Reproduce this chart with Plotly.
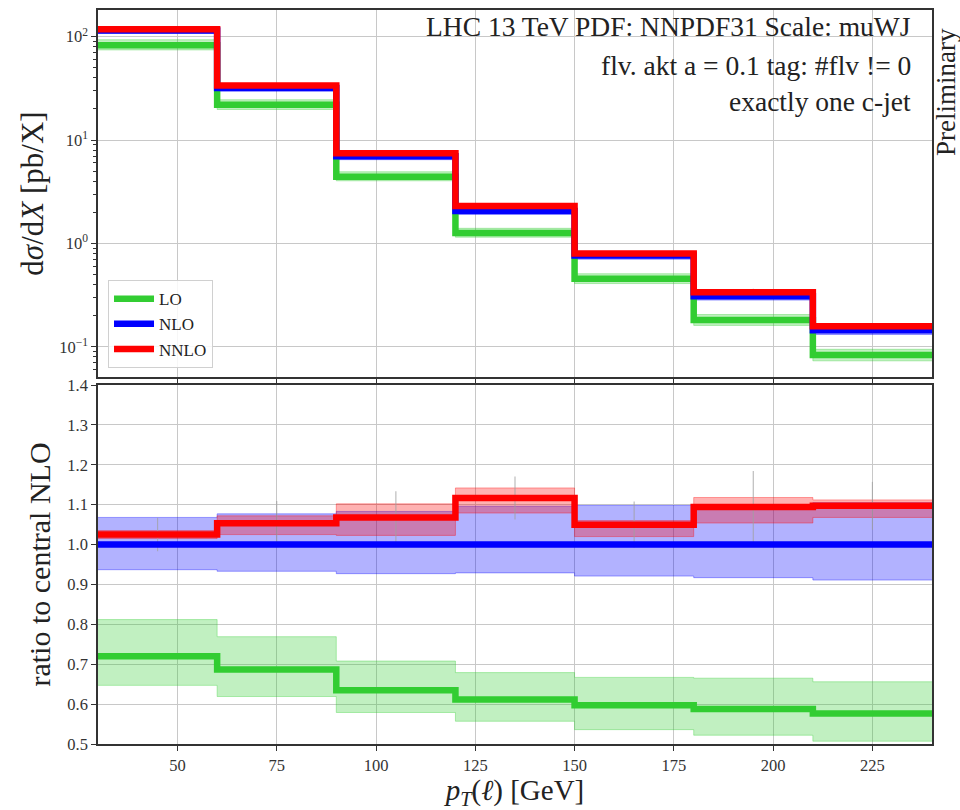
import numpy as np
import plotly.graph_objects as go
from plotly.subplots import make_subplots

# pT(lepton) binning [GeV]
bin_edges = [30, 60, 90, 120, 150, 180, 210, 240]

# central differential cross sections dsigma/dX [pb/X]
xs_lo = [82.8, 21.9, 4.42, 1.26, 0.455, 0.181, 0.083]
xs_nlo = [115.0, 31.9, 6.96, 2.06, 0.762, 0.308, 0.144]
xs_nnlo = [117.9, 33.6, 7.43, 2.30, 0.800, 0.337, 0.158]

# scale-variation envelopes, expressed as ratio to central NLO
lo_band_low = [0.647, 0.619, 0.579, 0.557, 0.536, 0.522, 0.507]
lo_band_high = [0.812, 0.769, 0.708, 0.679, 0.667, 0.665, 0.656]
nlo_band_low = [0.937, 0.933, 0.927, 0.929, 0.921, 0.917, 0.911]
nlo_band_high = [1.068, 1.077, 1.083, 1.096, 1.098, 1.100, 1.105]
nnlo_band_low = [1.015, 1.025, 1.023, 1.079, 1.020, 1.054, 1.068]
nnlo_band_high = [1.035, 1.072, 1.102, 1.142, 1.060, 1.118, 1.112]

# NNLO Monte Carlo statistical uncertainty (ratio units)
nnlo_stat_err = [0.042, 0.056, 0.066, 0.054, 0.058, 0.090, 0.060]

x_ticks = [50, 75, 100, 125, 150, 175, 200, 225]

GREEN = "#32cd32"
BLUE = "#0000ff"
RED = "#ff0000"
FONT = "Liberation Serif"

nlo = np.array(xs_nlo)
r_lo = np.array(xs_lo) / nlo
r_nlo = nlo / nlo
r_nnlo = np.array(xs_nnlo) / nlo
centers = [(a + b) / 2 for a, b in zip(bin_edges[:-1], bin_edges[1:])]


def step(vals):
    vals = list(vals)
    return bin_edges, vals + [vals[-1]]


fig = make_subplots(rows=2, cols=1, shared_xaxes=True)

bands = [
    (lo_band_low, lo_band_high, "rgba(50,205,50,0.3)", "rgba(50,205,50,0.35)"),
    (nlo_band_low, nlo_band_high, "rgba(0,0,255,0.3)", "rgba(0,0,255,0.35)"),
    (nnlo_band_low, nnlo_band_high, "rgba(255,0,0,0.3)", "rgba(255,0,0,0.35)"),
]

for row, scale in ((1, nlo), (2, np.ones_like(nlo))):
    for low, high, fill, edge in bands:
        xl, yl = step(np.array(low) * scale)
        xh, yh = step(np.array(high) * scale)
        fig.add_trace(go.Scatter(x=xl, y=yl, mode="lines", line=dict(shape="hv", width=1, color=edge),
                                 showlegend=False, hoverinfo="skip"), row=row, col=1)
        fig.add_trace(go.Scatter(x=xh, y=yh, mode="lines", line=dict(shape="hv", width=1, color=edge),
                                 fill="tonexty", fillcolor=fill, showlegend=False, hoverinfo="skip"),
                      row=row, col=1)

    # NNLO statistical error bars at bin centres
    err = np.array(nnlo_stat_err) / r_nnlo * np.array(xs_nnlo) if row == 1 else np.array(nnlo_stat_err)
    yc = np.array(xs_nnlo) if row == 1 else r_nnlo
    fig.add_trace(go.Scatter(x=centers, y=yc, mode="markers", marker=dict(size=0.1, color="rgba(0,0,0,0)"),
                             error_y=dict(type="data", array=err, symmetric=True, color="rgba(160,160,160,0.7)",
                                          thickness=1.2, width=0),
                             showlegend=False, hoverinfo="skip"), row=row, col=1)

    for name, vals, color in (("LO", r_lo, GREEN), ("NLO", r_nlo, BLUE), ("NNLO", r_nnlo, RED)):
        xs, ys = step(vals * scale)
        fig.add_trace(go.Scatter(x=xs, y=ys, mode="lines", name=name,
                                 line=dict(shape="hv", width=6.5, color=color),
                                 legendgroup=name, showlegend=(row == 1)), row=row, col=1)

axis_common = dict(
    showline=True, linecolor="#333333", linewidth=1.5, mirror=True,
    showgrid=True, gridcolor="#c8c8c8", gridwidth=1.2, zeroline=False,
    ticks="outside", tickcolor="#333333", ticklen=5, tickwidth=1.2,
    tickfont=dict(family=FONT, size=16.5, color="#333333"), automargin=False,
)

fig.update_xaxes(range=[30, 240], tickvals=x_ticks, **axis_common)
fig.update_xaxes(showticklabels=False, row=1, col=1)
fig.update_xaxes(
    title=dict(text="<i>p</i><sub><i>T</i></sub>(<i>ℓ</i>) [GeV]", font=dict(family=FONT, size=29, color="#222222"),
               standoff=6),
    row=2, col=1,
)

minor_vals = [m * 10.0 ** k for k in range(-2, 3) for m in range(2, 10)]
fig.update_yaxes(
    type="log", range=[-1.293, 2.258],
    tickvals=[0.1, 1, 10, 100],
    ticktext=["10<sup>−1</sup>", "10<sup>0</sup>", "10<sup>1</sup>", "10<sup>2</sup>"],
    minor=dict(tickmode="array", tickvals=minor_vals, ticks="outside", ticklen=3, tickcolor="#333333",
               showgrid=False),
    title=dict(text="d<i>σ</i>/d<i>X</i> [pb/X]", font=dict(family=FONT, size=31, color="#222222"), standoff=6),
    domain=[0.5, 1.0], row=1, col=1, **axis_common,
)
fig.update_yaxes(
    range=[0.5, 1.4], dtick=0.1, tick0=0.5, tickformat=".1f",
    title=dict(text="ratio to central NLO", font=dict(family=FONT, size=30, color="#222222"), standoff=8),
    domain=[0.0, 0.4891], row=2, col=1, **axis_common,
)

text_font = dict(family=FONT, size=27.5, color="#222222")
for label, ypix in (("LHC 13 TeV PDF: NNPDF31 Scale: muWJ", 27),
                    ("flv. akt a = 0.1 tag: #flv != 0", 65),
                    ("exactly one c-jet", 102)):
    fig.add_annotation(text=label, x=0.977, y=(744 - ypix) / 734, xref="paper", yref="paper",
                       xanchor="right", yanchor="middle", showarrow=False, font=text_font)
fig.add_annotation(text="Preliminary", x=(946 - 98) / 834, y=(744 - 92) / 734, xref="paper", yref="paper",
                   xanchor="center", yanchor="middle", textangle=-90, showarrow=False,
                   font=dict(family=FONT, size=27, color="#222222"))

fig.update_layout(
    width=960, height=810,
    margin=dict(l=98, r=28, t=10, b=66),
    paper_bgcolor="white", plot_bgcolor="white",
    showlegend=True,
    legend=dict(x=0.012, y=0.512, xanchor="left", yanchor="bottom",
                font=dict(family=FONT, size=17, color="#222222"),
                bgcolor="rgba(255,255,255,0.85)", bordercolor="#d0d0d0", borderwidth=1,
                tracegroupgap=0, itemwidth=40),
)

fig.write_html("out.html")
